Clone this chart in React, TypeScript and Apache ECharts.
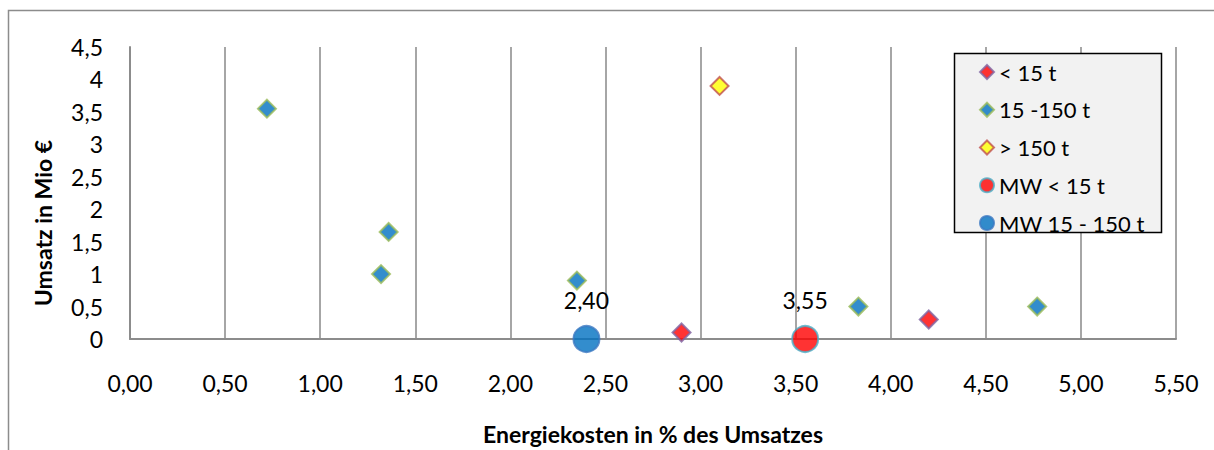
import React, { useEffect, useRef } from "react";
import * as echarts from "echarts";

// Series names (legend order)
const seriesNames = ["< 15 t", "15 -150 t", "> 150 t", "MW < 15 t", "MW 15 - 150 t"];

// [Energiekosten in % des Umsatzes, Umsatz in Mio €]
const smallFirms: number[][] = [
  [2.9, 0.1],
  [4.2, 0.3],
];
const mediumFirms: number[][] = [
  [0.72, 3.55],
  [1.36, 1.65],
  [1.32, 1.0],
  [2.35, 0.9],
  [3.83, 0.5],
  [4.77, 0.5],
];
const largeFirms: number[][] = [[3.1, 3.9]];
const meanSmall: number[][] = [[3.55, 0]];
const meanMedium: number[][] = [[2.4, 0]];

const xTicks = { min: 0, max: 5.5, interval: 0.5 };
const yTicks = { min: 0, max: 4.5, interval: 0.5 };

const FONT = "Lato, 'Open Sans', sans-serif";
const comma = (s: string) => s.replace(".", ",");

export default function App() {
  const ref = useRef<HTMLDivElement>(null);

  useEffect(() => {
    if (!ref.current) return;
    const chart = echarts.init(ref.current, null, { renderer: "svg" });

    const meanLabel = {
      show: true,
      position: "top" as const,
      distance: 14,
      fontFamily: FONT,
      fontSize: 23,
      color: "#000",
      textBorderWidth: 0,
      opacity: 1,
      formatter: (p: any) => comma(Number(p.value[0]).toFixed(2)),
    };

    chart.setOption({
      animation: false,
      backgroundColor: "#fff",
      textStyle: { fontFamily: FONT },
      grid: { left: 130, right: 38, top: 47, bottom: 110 },
      xAxis: {
        type: "value",
        ...xTicks,
        name: "Energiekosten in % des Umsatzes",
        nameLocation: "middle",
        nameGap: 83,
        nameTextStyle: { fontFamily: FONT, fontSize: 23, fontWeight: "bold", color: "#000" },
        axisLine: { show: true, onZero: false, lineStyle: { color: "#8c8c8c", width: 2 } },
        axisTick: { show: false },
        axisLabel: {
          margin: 32,
          fontFamily: FONT,
          fontSize: 23,
          color: "#000",
          formatter: (v: number) => comma(v.toFixed(2)),
        },
        splitLine: { show: true, lineStyle: { color: "#a6a6a6", width: 2 } },
      },
      yAxis: {
        type: "value",
        ...yTicks,
        axisLine: { show: true, lineStyle: { color: "#8c8c8c", width: 2 } },
        axisTick: { show: false },
        axisLabel: {
          margin: 27,
          fontFamily: FONT,
          fontSize: 23,
          color: "#000",
          formatter: (v: number) => comma(String(v)),
        },
        splitLine: { show: false },
      },
      legend: {
        orient: "vertical",
        left: 979,
        top: 61,
        padding: 0,
        itemWidth: 14,
        itemHeight: 14,
        itemGap: 15.75,
        z: 60,
        textStyle: { fontFamily: FONT, fontSize: 22, color: "#000", lineHeight: 20 },
        data: seriesNames,
      },
      graphic: [
        {
          type: "rect",
          z: 50,
          shape: { x: 8.5, y: 10.5, width: 1400, height: 600 },
          style: { fill: "none", stroke: "#8c8c8c", lineWidth: 1.5 },
          silent: true,
        },
        {
          type: "rect",
          z: 50,
          shape: { x: 954.5, y: 53.5, width: 207, height: 179 },
          style: { fill: "#f2f2f2", stroke: "#000", lineWidth: 1.5 },
          silent: true,
        },
        {
          type: "text",
          z: 50,
          x: 43,
          y: 223,
          rotation: Math.PI / 2,
          style: {
            text: "Umsatz in Mio €",
            fontFamily: FONT,
            fontSize: 23,
            fontWeight: "bold",
            fill: "#000",
            align: "center",
            verticalAlign: "middle",
          },
        },
      ],
      series: [
        {
          name: seriesNames[0],
          type: "scatter",
          symbol: "diamond",
          symbolSize: 18,
          itemStyle: { color: "#ff0000", borderColor: "#8064a2", borderWidth: 2 },
          data: smallFirms,
        },
        {
          name: seriesNames[1],
          type: "scatter",
          symbol: "diamond",
          symbolSize: 18,
          itemStyle: { color: "#0070c0", borderColor: "#9bbb59", borderWidth: 2 },
          data: mediumFirms,
        },
        {
          name: seriesNames[2],
          type: "scatter",
          symbol: "diamond",
          symbolSize: 18,
          itemStyle: { color: "#ffff00", borderColor: "#c0504d", borderWidth: 2 },
          data: largeFirms,
        },
        {
          name: seriesNames[3],
          type: "scatter",
          symbol: "circle",
          symbolSize: 26,
          clip: false,
          itemStyle: { color: "#ff0000", borderColor: "#4bacc6", borderWidth: 2 },
          label: meanLabel,
          data: meanSmall,
        },
        {
          name: seriesNames[4],
          type: "scatter",
          symbol: "circle",
          symbolSize: 26,
          clip: false,
          itemStyle: { color: "#0070c0", borderColor: "#3a78c2", borderWidth: 2 },
          label: meanLabel,
          data: meanMedium,
        },
      ],
    });

    return () => chart.dispose();
  }, []);

  return (
    <div
      ref={ref}
      style={{ position: "absolute", left: 0, top: 0, width: 1214, height: 450 }}
    />
  );
}
